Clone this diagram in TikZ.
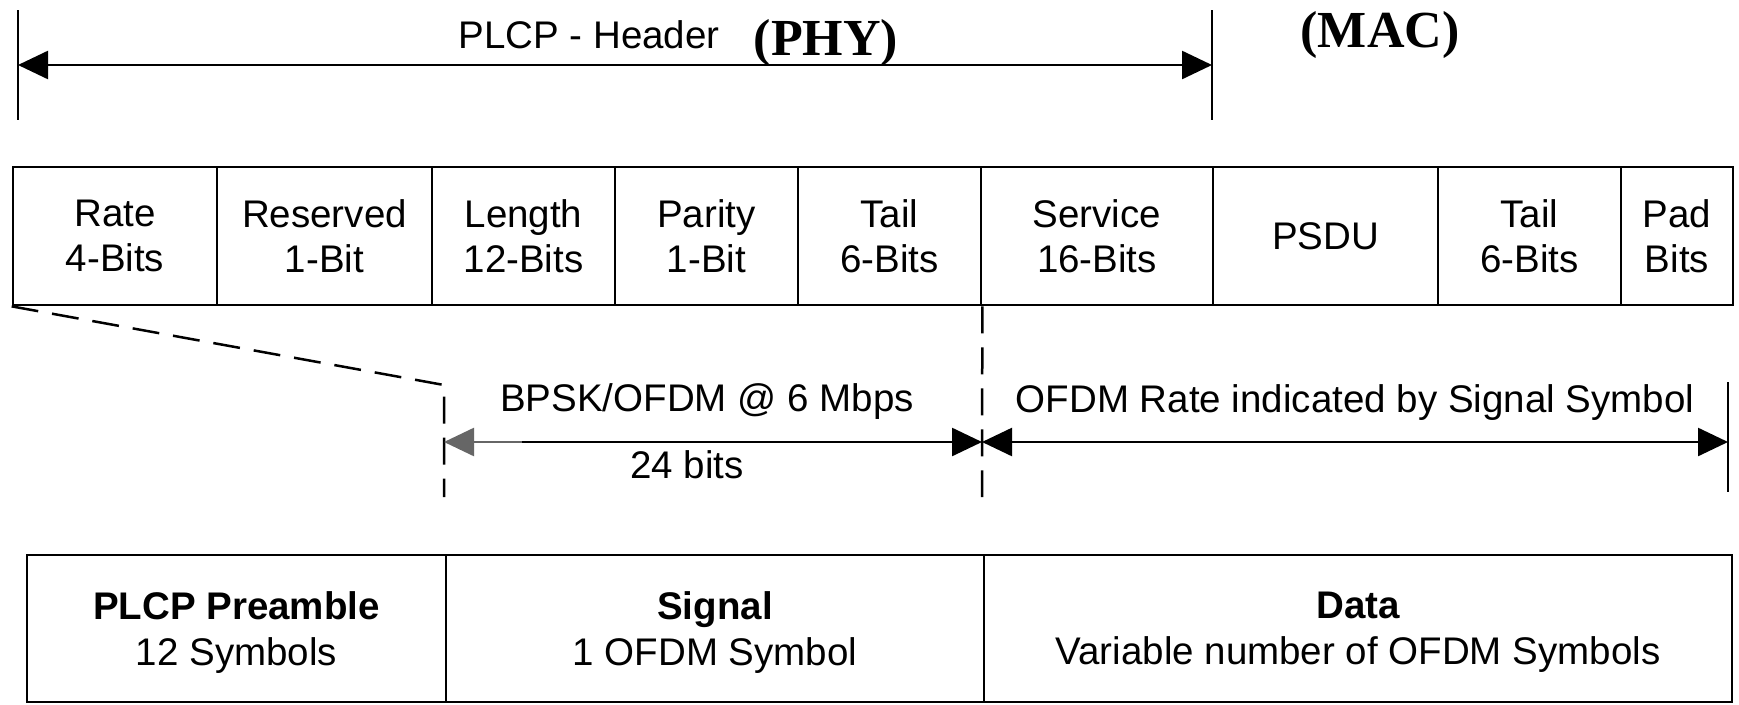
\documentclass[tikz,border=0pt]{standalone}
\usepackage{fontspec}
\setmainfont{Liberation Sans}
\newfontfamily\timesf{Liberation Serif}
\usetikzlibrary{arrows.meta}
\begin{document}
\begin{tikzpicture}[x=1pt,y=-1pt,
  lw/.style={line width=2.7pt},
  cell/.style={draw, lw, inner sep=0pt, minimum height=138pt, align=center, font=\fontsize{38.5}{45}\selectfont},
  bcell/.style={draw, lw, inner sep=0pt, minimum height=147pt, align=center, font=\fontsize{38.5}{46}\selectfont, text depth=0pt},
  lbl/.style={inner sep=0pt, anchor=base, font=\fontsize{38.5}{45}\selectfont},
  big/.style={inner sep=0pt, anchor=base, font=\fontsize{52}{60}\selectfont\timesf\bfseries},
  tipA/.style={line width=2.5pt, {Triangle[length=30pt,width=28pt]}-{Triangle[length=30pt,width=28pt]}},
  tipR/.style={line width=2.5pt, -{Triangle[length=30pt,width=28pt]}},
  dsh/.style={line width=2.5pt, dash pattern=on 27pt off 14pt},
]
\useasboundingbox[fill=white] (0,0) rectangle (1739,704);

% top bracket
\coordinate (lbT) at (18,10);
\coordinate (lbB) at (18,120);
\coordinate (rbT) at (1212,10);
\coordinate (rbB) at (1212,120);
\coordinate (la) at (18,65);
\coordinate (ra) at (1212,65);
\draw[lw] (lbT) -- (lbB);
\draw[lw] (rbT) -- (rbB);
\draw[tipA] (la) -- (ra);
\node[lbl] (hdr) at (589,48) {PLCP - Header};
\node[big] (phy) at (826,55) {(PHY)};
\node[big] (mac) at (1380,47) {(MAC)};

% top table
\node[cell, minimum width=204pt] (rate) at (115,236) {Rate\\4-Bits};
\node[cell, minimum width=215pt] (res) at (324.5,236) {Reserved\\1-Bit};
\node[cell, minimum width=183pt] (len) at (523.5,236) {Length\\12-Bits};
\node[cell, minimum width=183pt] (par) at (706.5,236) {Parity\\1-Bit};
\node[cell, minimum width=183pt] (tail1) at (889.5,236) {Tail\\6-Bits};
\node[cell, minimum width=232pt] (serv) at (1097,236) {Service\\16-Bits};
\node[cell, minimum width=225pt] (psdu) at (1325.5,236) {PSDU};
\node[cell, minimum width=183pt] (tail2) at (1529.5,236) {Tail\\6-Bits};
\node[cell, minimum width=112pt] (pad) at (1677,236) {Pad\\Bits};

% middle
\coordinate (corner) at (444,385);
\coordinate (lend) at (444,497);
\coordinate (mend) at (982,497);
\coordinate (al) at (444,442);
\coordinate (ag) at (522,442);
\coordinate (am) at (982,442);
\coordinate (ar) at (1728,442);
\coordinate (rbT2) at (1728,382);
\coordinate (rbB2) at (1728,492);
\draw[dsh] (rate.south west) -- (corner) -- (lend);
\draw[dsh] (tail1.south east) -- (mend);
\draw[tipR, black!60] (ag) -- (al);
\draw[tipR] (ag) -- (am);
\draw[tipA] (am) -- (ar);
\draw[lw] (rbT2) -- (rbB2);
\node[lbl] (bpsk) at (707,411) {BPSK/OFDM @ 6 Mbps};
\node[lbl] (bits) at (687,478) {24 bits};
\node[lbl] (ofdm) at (1355,412) {OFDM Rate indicated by Signal Symbol};

% bottom table
\node[bcell, minimum width=419pt] (pre) at (236.5,628.5) {\bfseries PLCP Preamble\\12 Symbols};
\node[bcell, minimum width=538pt] (sig) at (715,628.5) {\bfseries Signal\\1 OFDM Symbol};
\node[bcell, minimum width=748pt] (data) at (1358,628.5) {\bfseries Data\\Variable number of OFDM Symbols};
\end{tikzpicture}
\end{document}
